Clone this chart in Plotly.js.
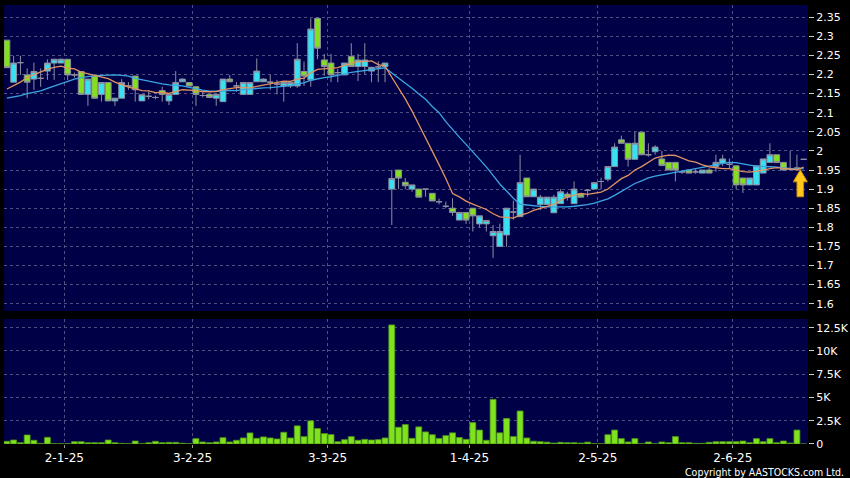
<!DOCTYPE html>
<html><head><meta charset="utf-8">
<script src="https://cdn.plot.ly/plotly-3.0.1.min.js"></script>
<style>html,body{margin:0;padding:0;background:#000;}#chart{width:850px;height:478px;}</style>
</head><body><div id="chart"></div>
<script>
// ---- data ----
const opens  = [2.29,2.18,2.231,2.199,2.188,2.19,2.209,2.23,2.23,2.24,
 2.199,2.208,2.148,2.196,2.148,2.179,2.131,2.138,2.17,2.196,
 2.131,2.143,2.14,2.158,2.131,2.148,2.181,2.179,2.168,2.145,
 2.148,2.138,2.129,2.188,2.17,2.148,2.148,2.181,2.181,2.18,
 2.175,2.17,2.17,2.17,2.208,2.186,2.347,2.238,2.23,2.205,
 2.199,2.247,2.221,2.221,2.209,2.22,2.221,1.90,1.95,1.918,
 1.90,1.90,1.90,1.889,1.867,1.855,1.85,1.819,1.839,1.85,
 1.809,1.809,1.778,1.75,1.78,1.84,1.828,1.929,1.88,1.86,
 1.86,1.838,1.862,1.887,1.862,1.887,1.897,1.90,1.92,1.926,
 1.959,2.029,2.02,1.978,2.049,1.99,1.998,1.979,1.97,1.97,
 1.945,1.95,1.945,1.942,1.95,1.959,1.968,1.965,1.961,1.929,
 1.911,1.911,1.942,1.97,1.99,1.97,1.952,1.955,1.978];
const highs  = [2.29,2.249,2.249,2.216,2.231,2.216,2.24,2.24,2.242,2.24,
 2.205,2.208,2.188,2.196,2.179,2.179,2.138,2.188,2.18,2.196,
 2.147,2.156,2.145,2.168,2.148,2.209,2.19,2.179,2.168,2.155,
 2.148,2.148,2.188,2.199,2.18,2.179,2.179,2.242,2.19,2.199,
 2.186,2.179,2.179,2.282,2.234,2.347,2.35,2.254,2.254,2.215,
 2.23,2.282,2.254,2.282,2.219,2.235,2.23,1.95,1.95,1.929,
 1.911,1.90,1.90,1.889,1.875,1.867,1.876,1.839,1.839,1.85,
 1.83,1.818,1.806,1.81,1.85,1.87,1.99,1.929,1.90,1.885,
 1.879,1.885,1.90,1.893,1.92,1.887,1.90,1.917,1.93,1.959,
 2.02,2.04,2.02,2.05,2.049,2.02,2.015,2.0,1.97,1.97,
 1.95,1.95,1.952,1.95,1.955,1.99,1.99,1.98,1.961,1.929,
 1.929,1.961,1.979,2.02,1.99,1.97,2.0,1.99,1.978];
const lows   = [2.218,2.18,2.199,2.138,2.16,2.168,2.186,2.186,2.23,2.186,
 2.192,2.148,2.118,2.138,2.129,2.131,2.118,2.138,2.16,2.129,
 2.131,2.135,2.135,2.129,2.12,2.148,2.181,2.17,2.118,2.14,
 2.138,2.118,2.129,2.18,2.155,2.148,2.148,2.181,2.181,2.16,
 2.148,2.129,2.165,2.165,2.17,2.168,2.24,2.197,2.18,2.18,
 2.199,2.221,2.183,2.2,2.18,2.18,2.18,1.806,1.90,1.90,
 1.893,1.879,1.88,1.869,1.86,1.85,1.83,1.819,1.809,1.789,
 1.80,1.789,1.72,1.75,1.749,1.82,1.828,1.88,1.88,1.845,
 1.86,1.838,1.862,1.87,1.862,1.879,1.88,1.90,1.90,1.92,
 1.959,2.02,1.959,1.978,1.99,1.985,1.99,1.96,1.95,1.92,
 1.94,1.942,1.94,1.942,1.942,1.945,1.96,1.955,1.90,1.89,
 1.911,1.911,1.942,1.97,1.97,1.948,1.948,1.95,1.978];
const closes = [2.218,2.23,2.231,2.18,2.208,2.19,2.23,2.24,2.24,2.199,
 2.199,2.148,2.188,2.138,2.179,2.131,2.138,2.179,2.17,2.16,
 2.147,2.143,2.14,2.148,2.148,2.179,2.188,2.17,2.148,2.145,
 2.14,2.148,2.188,2.181,2.17,2.179,2.179,2.209,2.188,2.18,
 2.175,2.179,2.179,2.24,2.196,2.319,2.269,2.221,2.199,2.205,
 2.23,2.221,2.238,2.238,2.219,2.22,2.23,1.928,1.929,1.909,
 1.911,1.879,1.90,1.869,1.867,1.855,1.839,1.839,1.819,1.83,
 1.83,1.818,1.789,1.789,1.85,1.84,1.917,1.88,1.90,1.879,
 1.879,1.879,1.893,1.879,1.90,1.879,1.897,1.917,1.92,1.959,
 2.01,2.02,1.978,2.02,1.99,1.99,2.01,1.962,1.95,1.95,
 1.945,1.942,1.945,1.95,1.942,1.97,1.979,1.965,1.911,1.911,
 1.929,1.961,1.979,1.99,1.97,1.95,1.952,1.955,1.978];
const volumes = [290,430,140,970,400,70,720,40,30,30,
 250,250,140,140,140,430,140,60,30,320,
 30,140,290,140,180,180,80,30,580,220,
 140,220,680,220,400,650,1190,610,760,650,
 540,1260,650,1950,790,2490,1660,1120,1010,250,
 470,790,400,500,430,470,650,12800,1800,2090,
 610,1840,1300,1000,600,900,1200,700,500,2300,
 1500,400,4800,1200,2750,800,3550,650,300,250,
 200,100,180,140,140,100,200,30,20,1000,
 1500,580,220,580,30,220,20,220,140,800,
 140,140,70,70,180,250,250,250,250,320,
 140,580,250,580,140,320,100,1500,0];
// moving-average values before enough history exists
const ma10Lead = [2.162,2.170,2.180,2.192,2.200,2.207,2.214,2.219,2.222];
const ma20Lead = [2.138,2.141,2.145,2.150,2.153,2.157,2.164,2.170,2.177,2.184,
 2.188,2.192,2.195,2.197,2.198,2.199,2.199,2.198,2.196];
const dateTickBars = [9,28,48,69,88,108];
const dateTickLabels = ['2-1-25','3-2-25','3-3-25','1-4-25','2-5-25','2-6-25'];
const priceTicks = [1.6,1.65,1.7,1.75,1.8,1.85,1.9,1.95,2,2.05,2.1,2.15,2.2,2.25,2.3,2.35];
const volTicks = [0,2500,5000,7500,10000,12500];
const volTickLabels = ['0','2.5K','5K','7.5K','10K','12.5K'];

// ---- derived ----
const idx = closes.map((_, i) => i);
function movingAvg(period, lead) {
  return closes.map((c, i) => {
    if (i < lead.length) return lead[i];
    let s = 0; for (let j = i - period + 1; j <= i; j++) s += closes[j];
    return s / period;
  });
}
const ma10 = movingAvg(10, ma10Lead);
const ma20 = movingAvg(20, ma20Lead);
const dateTickVals = dateTickBars.map(b => b - 0.5);

const GRID = '#4f4f86';
const xr = [-0.43, 118.64];

const traces = [
  {type:'candlestick', x: idx, open: opens, high: highs, low: lows, close: closes,
   xaxis:'x', yaxis:'y', whiskerwidth:0, hoverinfo:'skip',
   increasing:{line:{color:'#8e8ea0', width:1}, fillcolor:'#36e2f2'},
   decreasing:{line:{color:'#8e8ea0', width:1}, fillcolor:'#82e01f'}},
  {type:'scatter', mode:'lines', x: idx, y: ma20, xaxis:'x', yaxis:'y',
   line:{color:'#3ba6e2', width:1.3}, hoverinfo:'skip'},
  {type:'scatter', mode:'lines', x: idx, y: ma10, xaxis:'x', yaxis:'y',
   line:{color:'#e09462', width:1.3}, hoverinfo:'skip'},
  {type:'bar', x: idx, y: volumes, xaxis:'x2', yaxis:'y2',
   marker:{color:'#7fe21e', line:{color:'#4e9418', width:0.8}}, hoverinfo:'skip'}
];

const n = closes.length;
const cx = n - 1.5, tipY = 1.951, baseY = 1.919, botY = 1.880, hw = 1.04, sw = 0.49;
const arrowPath = `M${cx},${tipY} L${cx+hw},${baseY} L${cx+sw},${baseY} L${cx+sw},${botY} L${cx-sw},${botY} L${cx-sw},${baseY} L${cx-hw},${baseY} Z`;

const axX = {range: xr, tickvals: dateTickVals, showgrid:true, gridcolor:GRID, griddash:'3px,3px',
  gridwidth:1, zeroline:false, showline:false, rangeslider:{visible:false}, fixedrange:true};

const layout = {
  width:850, height:478, margin:{l:4, r:42, t:5, b:34},
  paper_bgcolor:'#000', plot_bgcolor:'#000046', showlegend:false,
  font:{family:'DejaVu Sans, sans-serif', color:'#ffffff', size:11},
  boxgap:0.14, boxgroupgap:0, bargap:0.12,
  xaxis: Object.assign({}, axX, {domain:[0,1], anchor:'y', showticklabels:false, ticks:''}),
  xaxis2: Object.assign({}, axX, {domain:[0,1], anchor:'y2', ticktext: dateTickLabels,
    ticks:'outside', ticklen:3, tickcolor:'#9a9a9a', tickfont:{size:12, color:'#ffffff'}}),
  yaxis:{domain:[0.303,1], anchor:'x', side:'right', range:[1.581,2.382],
    tickvals: priceTicks, ticktext: priceTicks.map(v => String(v)),
    ticks:'outside', ticklen:5, tickcolor:'#cccccc', showgrid:true, gridcolor:GRID,
    griddash:'3px,3px', zeroline:false, showline:false, tickfont:{size:11}},
  yaxis2:{domain:[0,0.2847], anchor:'x2', side:'right', range:[0,13435],
    tickvals: volTicks, ticktext: volTickLabels,
    ticks:'outside', ticklen:5, tickcolor:'#cccccc', showgrid:true, gridcolor:GRID,
    griddash:'3px,3px', zeroline:false, showline:false, tickfont:{size:11}},
  shapes:[{type:'path', xref:'x', yref:'y', path: arrowPath, layer:'above',
    fillcolor:'#ffc81a', line:{color:'#c98d00', width:1}}],
  annotations:[{text:'Copyright by AASTOCKS.com Ltd.', xref:'paper', yref:'paper',
    x:1.0473, y:-0.063, xanchor:'right', yanchor:'middle', showarrow:false,
    font:{family:'DejaVu Sans Condensed, DejaVu Sans, sans-serif', size:10.5, color:'#ffffff'}}]
};

Plotly.newPlot('chart', traces, layout, {displayModeBar:false, staticPlot:true});
</script>
</body></html>
